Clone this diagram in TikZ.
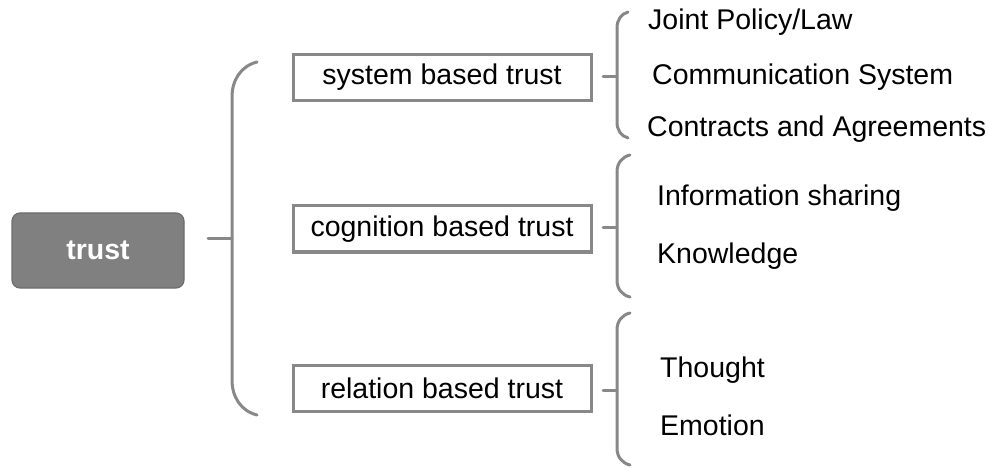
\documentclass[tikz,border=0pt]{standalone}
\usepackage{fontspec}
\setmainfont{Liberation Sans}
\usetikzlibrary{positioning}
\definecolor{lineGray}{HTML}{888888}
\definecolor{rootGray}{HTML}{808080}
\tikzset{>=latex}
\tikzset{
  rootbox/.style={draw=rootGray!85!black,fill=rootGray,rounded corners=8pt,line width=1.2pt,
    minimum width=172pt,minimum height=75pt,text=white,font=\fontsize{28.5}{34}\selectfont\bfseries},
  catbox/.style={draw=lineGray,line width=3pt,fill=white,minimum width=298pt,minimum height=46pt,
    inner sep=0pt,font=\fontsize{28.5}{34}\selectfont},
  leaf/.style={anchor=base west,inner sep=0pt,font=\fontsize{28.5}{34}\selectfont},
  curly/.style={draw=lineGray,line width=3pt,line cap=round}
}

\begin{document}
\begin{tikzpicture}[x=1pt,y=-1pt]
\useasboundingbox (0,0) rectangle (989,468);
\node[rootbox] (trust) at (98,250.5) {trust};
\node[catbox] (sys) at (442,77.5) {system based trust};
\node[catbox] (cog) at (442,229) {cognition based trust};
\node[catbox] (rel) at (442,388.5) {relation based trust};
% leaves
\node[leaf] (law) at (648,30) {Joint Policy/Law};
\node[leaf] (com) at (652,85) {Communication System};
\node[leaf] (con) at (647,137) {Contracts and Agreements};
\node[leaf] (inf) at (657,206) {Information sharing};
\node[leaf] (kno) at (657,263) {Knowledge};
\node[leaf] (tho) at (660,377) {Thought};
\node[leaf] (emo) at (660,435) {Emotion};
% big brace
\coordinate (tip0) at (208,238.5);
\draw[curly] (257,62) .. controls (241,66) and (232,80) .. (232,97) -- (232,380)
  .. controls (232,397) and (241,411) .. (257,415);
\draw[curly] (tip0) -- (232,238.5);
% system brace
\coordinate (tip1) at (603,77);
\draw[curly] (628,12) .. controls (621,14) and (617,20) .. (617,28) -- (617,122)
  .. controls (617,130) and (621,136) .. (628,138);
\draw[curly] (tip1) -- (617,77);
% cognition brace
\coordinate (tip2) at (603,227.5);
\draw[curly] (630,155) .. controls (622,157) and (617,163) .. (617,172) -- (617,280)
  .. controls (617,289) and (622,295) .. (630,297);
\draw[curly] (tip2) -- (617,227.5);
% relation brace
\coordinate (tip3) at (603,390);
\draw[curly] (630,313) .. controls (622,315) and (617,321) .. (617,330) -- (617,448)
  .. controls (617,457) and (622,463) .. (630,465);
\draw[curly] (tip3) -- (617,390);
\end{tikzpicture}
\end{document}
